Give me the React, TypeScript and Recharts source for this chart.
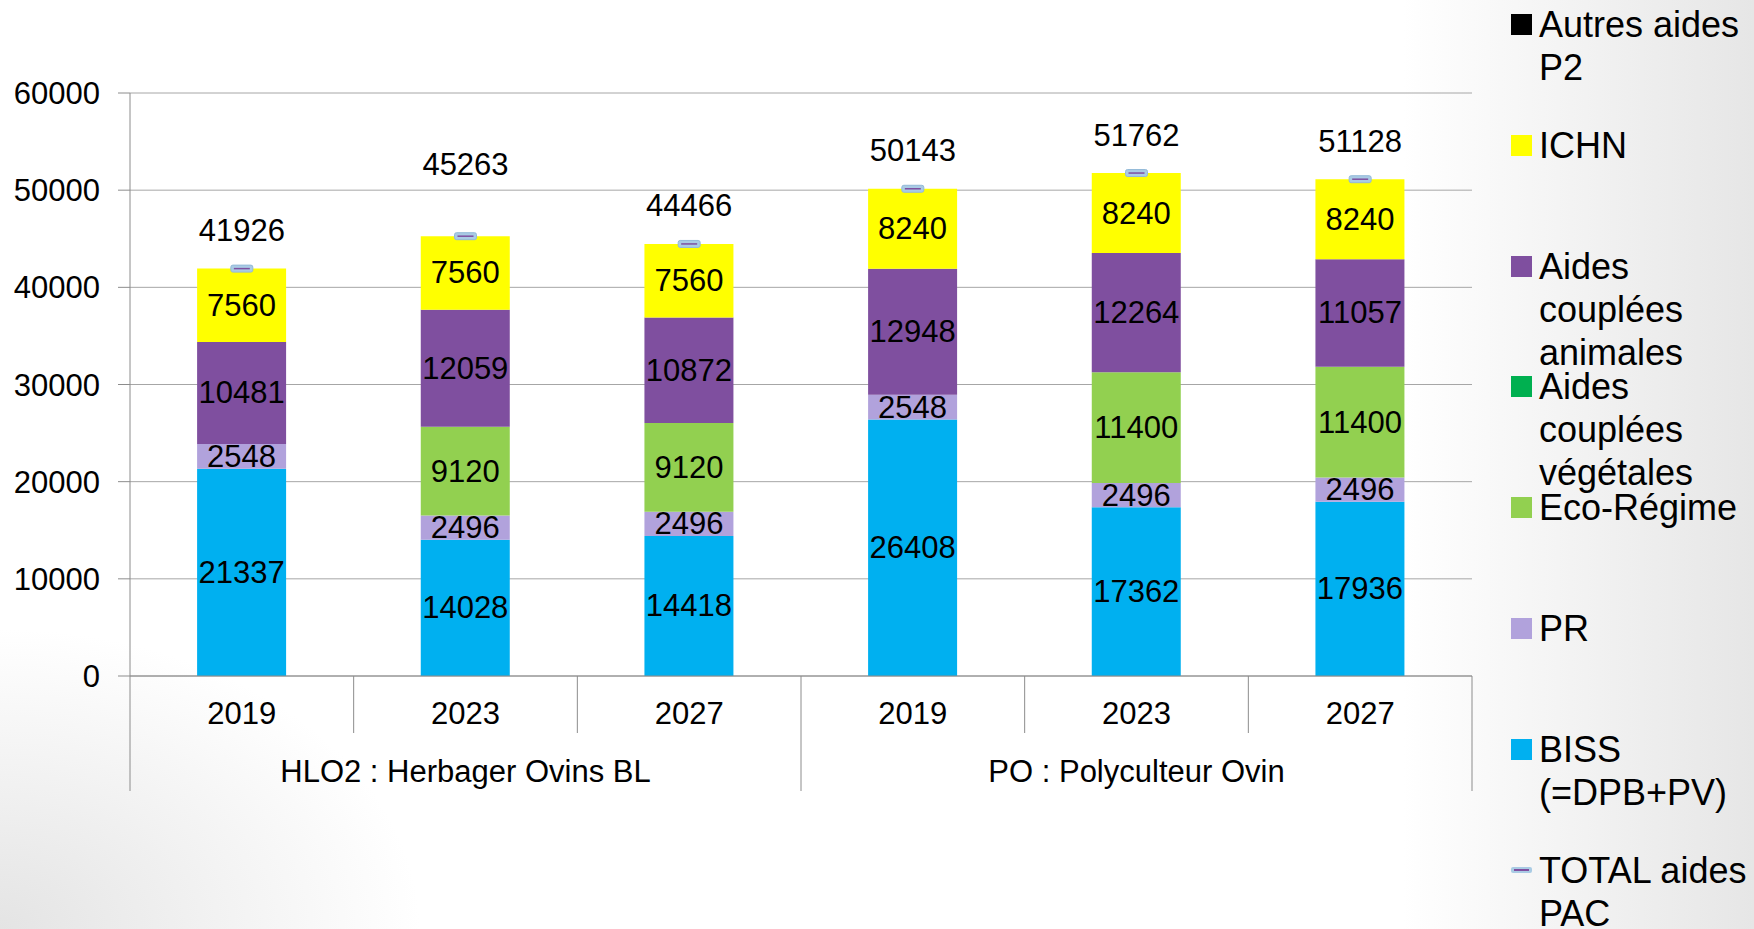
import React from 'react';
import { ComposedChart, Bar, Line, XAxis, YAxis, CartesianGrid, LabelList } from 'recharts';

const years = ['2019', '2023', '2027', '2019', '2023', '2027'];
const groups = [
  'HLO2 : Herbager Ovins BL', 'HLO2 : Herbager Ovins BL', 'HLO2 : Herbager Ovins BL',
  'PO : Polyculteur Ovin', 'PO : Polyculteur Ovin', 'PO : Polyculteur Ovin',
];
const biss = [21337, 14028, 14418, 26408, 17362, 17936];
const pr = [2548, 2496, 2496, 2548, 2496, 2496];
const ecoRegime = [0, 9120, 9120, 0, 11400, 11400];
const coupleesVegetales = [0, 0, 0, 0, 0, 0];
const coupleesAnimales = [10481, 12059, 10872, 12948, 12264, 11057];
const ichn = [7560, 7560, 7560, 8240, 8240, 8240];
const autresP2 = [0, 0, 0, 0, 0, 0];
const totalPac = [41926, 45263, 44466, 50143, 51762, 51128];
const yTicks = [0, 10000, 20000, 30000, 40000, 50000, 60000];

const data = years.map((y, i) => ({
  year: y,
  group: groups[i],
  biss: biss[i],
  pr: pr[i],
  eco: ecoRegime[i],
  veg: coupleesVegetales[i],
  anim: coupleesAnimales[i],
  ichn: ichn[i],
  autres: autresP2[i],
  total: totalPac[i],
}));

const FONT = '"Liberation Sans", Arial, sans-serif';

const stackSeries = [
  { key: 'biss', name: 'BISS (=DPB+PV)', color: '#00b0f0' },
  { key: 'pr', name: 'PR', color: '#b1a2dc' },
  { key: 'eco', name: 'Eco-Régime', color: '#92d050' },
  { key: 'veg', name: 'Aides couplées végétales', color: '#00b050' },
  { key: 'anim', name: 'Aides couplées animales', color: '#7f4f9f' },
  { key: 'ichn', name: 'ICHN', color: '#ffff00' },
  { key: 'autres', name: 'Autres aides P2', color: '#000000' },
];

const legendOrder = ['autres', 'ichn', 'anim', 'veg', 'eco', 'pr', 'biss', 'total'];

const SegLabel = (p: any) => {
  const { x, y, width, height, value } = p;
  if (!value) return null;
  return (
    <text x={x + width / 2} y={y + height / 2} textAnchor="middle" dominantBaseline="central"
      fontSize={31} fontFamily={FONT} fill="#000">{value}</text>
  );
};

const liftedTotalIndex = 1;
const TotalLabel = (p: any) => {
  const { x, y, value, index } = p;
  const lift = index === liftedTotalIndex ? 72 : 38;
  return (
    <text x={x} y={y - lift} textAnchor="middle" dominantBaseline="central"
      fontSize={31} fontFamily={FONT} fill="#000">{value}</text>
  );
};

const DashDot = (p: any) => {
  const { cx, cy, index } = p;
  if (cx == null || cy == null) return null;
  return (
    <g key={`dash-${index}`}>
      <rect x={cx - 11} y={cy - 3.5} width={22} height={7} rx={2} fill="#a9cbe4" stroke="#93b9d8" strokeWidth={1} />
      <line x1={cx - 8} x2={cx + 8} y1={cy} y2={cy} stroke="#7f4f9f" strokeWidth={1.5} />
    </g>
  );
};

const XTick = (p: any) => {
  const { x, y, payload, index } = p;
  const half = payload && payload.offset ? payload.offset : 111.8;
  const left = x - half;
  const right = x + half;
  const isGroupStart = index % 3 === 0;
  return (
    <g>
      <line x1={left} x2={left} y1={y} y2={y + (isGroupStart ? 115 : 57)} stroke="#8c8c8c" strokeWidth={1} />
      {index === years.length - 1 && (
        <line x1={right} x2={right} y1={y} y2={y + 115} stroke="#8c8c8c" strokeWidth={1} />
      )}
      <text x={x} y={y + 37} textAnchor="middle" dominantBaseline="central" fontSize={31} fontFamily={FONT} fill="#000">
        {payload.value}
      </text>
      {index % 3 === 1 && (
        <text x={x} y={y + 95} textAnchor="middle" dominantBaseline="central" fontSize={31} fontFamily={FONT} fill="#000">
          {groups[index]}
        </text>
      )}
    </g>
  );
};

const LegendBox = () => {
  const items = legendOrder.map((k) => {
    if (k === 'total') return { key: k, name: 'TOTAL aides PAC', color: '' };
    const s = stackSeries.find((s) => s.key === k)!;
    return { key: k, name: s.name, color: s.color };
  });
  return (
    <div style={{ position: 'absolute', left: 1511, top: 0, width: 243, height: 929, fontFamily: FONT }}>
      {items.map((it, i) => (
        <div key={it.key} style={{ position: 'absolute', top: 3 + i * 120.8, left: 0, width: 243, height: 130 }}>
          {it.key === 'total' ? (
            <div style={{ position: 'absolute', left: 0, top: 18, width: 21, height: 6, background: '#a9cbe4', borderRadius: 2 }}>
              <div style={{ position: 'absolute', left: 3, top: 2.5, width: 15, height: 1.5, background: '#7f4f9f' }} />
            </div>
          ) : (
            <div style={{ position: 'absolute', left: 0, top: 11, width: 21, height: 21, background: it.color }} />
          )}
          <div style={{ position: 'absolute', left: 28, top: 0, width: 215, fontSize: 36, lineHeight: '43px', color: '#000' }}>
            {it.name}
          </div>
        </div>
      ))}
    </div>
  );
};

export default function App() {
  return (
    <div style={{
      position: 'absolute', left: 0, top: 0, width: 1754, height: 929, overflow: 'hidden',
      background: 'radial-gradient(ellipse 420px 300px at 0% 100%, #e4e4e4 0%, rgba(255,255,255,0) 100%), linear-gradient(to right, #ffffff 80%, #e6e6e6 100%)',
    }}>
      <ComposedChart width={1754} height={929} data={data} margin={{ top: 93, right: 282, left: 0, bottom: 0 }}
        barCategoryGap="30%">
        <CartesianGrid vertical={false} stroke="#a6a6a6" strokeWidth={1} />
        <YAxis domain={[0, 60000]} ticks={yTicks} width={130} tickSize={12} tickMargin={18}
          axisLine={{ stroke: '#8c8c8c' }} tickLine={{ stroke: '#8c8c8c' }}
          tick={{ fontSize: 31, fontFamily: FONT, fill: '#000' }} interval={0} />
        <XAxis dataKey="year" height={253} tickSize={0} tickMargin={0} interval={0}
          axisLine={{ stroke: '#8c8c8c' }} tickLine={false} tick={<XTick />} />
        {stackSeries.map((s) => (
          <Bar key={s.key} dataKey={s.key} name={s.name} stackId="a" fill={s.color} isAnimationActive={false}>
            <LabelList dataKey={s.key} content={<SegLabel />} />
          </Bar>
        ))}
        <Line dataKey="total" name="TOTAL aides PAC" stroke="none" dot={<DashDot />} activeDot={false}
          isAnimationActive={false}>
          <LabelList dataKey="total" content={<TotalLabel />} />
        </Line>
      </ComposedChart>
      <LegendBox />
    </div>
  );
}
